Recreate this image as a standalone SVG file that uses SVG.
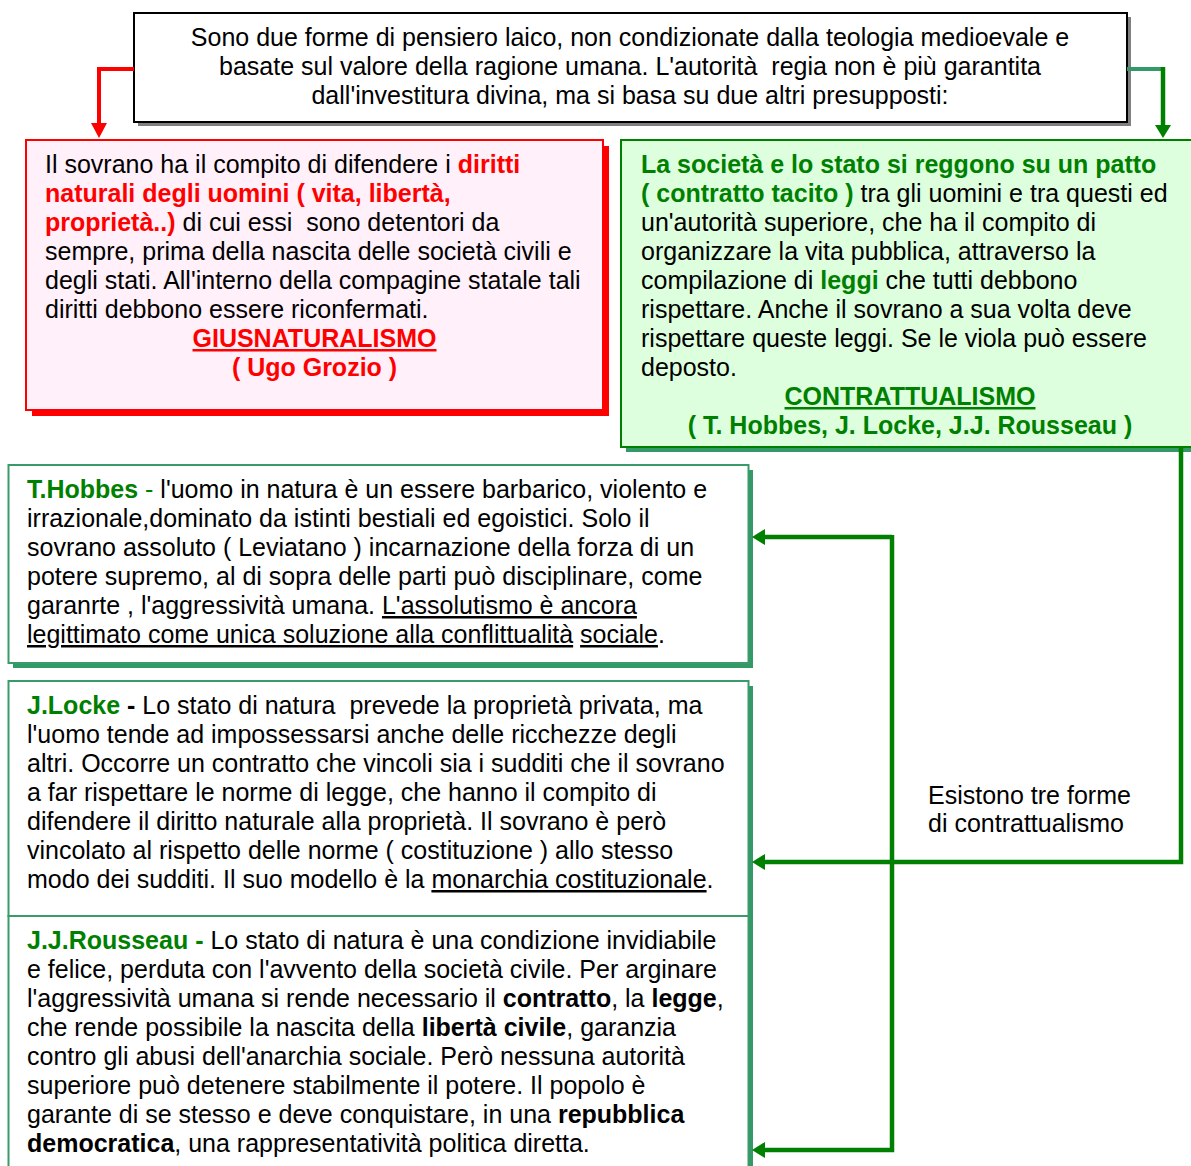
<svg xmlns="http://www.w3.org/2000/svg" width="1191" height="1166" viewBox="0 0 1191 1166">
<style>
.t{font-family:"Liberation Sans",Arial,Helvetica,sans-serif;font-size:25px;fill:#000;white-space:pre}
.b{font-weight:bold}
.red{fill:#ff0000}
.grn{fill:#008000}
.u{text-decoration:underline}
.mid{text-anchor:middle}
.gline{fill:none;stroke:#008000;stroke-width:4.5}
.sbox{fill:#fff;stroke:#3a9a6a;stroke-width:2}
.sshadow{fill:#339966}
</style>
<defs>
<marker id="arrRed" markerUnits="userSpaceOnUse" markerWidth="16" markerHeight="16" refX="0" refY="8" orient="auto"><path d="M0,0 L15,8 L0,16 Z" fill="#ff0000"/></marker>
<marker id="arrGreen" markerUnits="userSpaceOnUse" markerWidth="16" markerHeight="16" refX="0" refY="8" orient="auto"><path d="M0,0 L13,8 L0,16 Z" fill="#008000"/></marker>
</defs>
<rect width="1191" height="1166" fill="#fff"/>

<g id="node-intro">
<rect x="138" y="17" width="993" height="109" fill="#808080"/>
<rect x="134" y="13" width="993" height="109" fill="#fff" stroke="#000" stroke-width="2"/>
<text class="t mid" x="630" y="46">Sono due forme di pensiero laico, non condizionate dalla teologia medioevale e</text>
<text class="t mid" x="630" y="75">basate sul valore della ragione umana. L'autorità  regia non è più garantita</text>
<text class="t mid" x="630" y="104">dall'investitura divina, ma si basa su due altri presupposti:</text>
</g>

<g id="node-giusnaturalismo">
<rect x="32" y="146" width="577" height="270" fill="#ff0000"/>
<rect x="26" y="140" width="577" height="270" fill="#fff0fa" stroke="#ff0000" stroke-width="2"/>
<text class="t" x="45" y="173">Il sovrano ha il compito di difendere i <tspan class="b red">diritti</tspan></text>
<text class="t b red" x="45" y="202">naturali degli uomini ( vita, libertà,</text>
<text class="t" x="45" y="231"><tspan class="b red">proprietà..)</tspan> di cui essi  sono detentori da</text>
<text class="t" x="45" y="260">sempre, prima della nascita delle società civili e</text>
<text class="t" x="45" y="289">degli stati. All'interno della compagine statale tali</text>
<text class="t" x="45" y="318">diritti debbono essere riconfermati.</text>
<text class="t b red u mid" x="314.5" y="347">GIUSNATURALISMO</text>
<text class="t b red mid" x="314.5" y="376">( Ugo Grozio )</text>
</g>

<g id="node-contrattualismo">
<rect x="626" y="145" width="578" height="307" fill="#339966"/>
<rect x="621" y="140" width="578" height="307" fill="#ddffdd" stroke="#008000" stroke-width="2"/>
<text class="t b grn" x="641" y="173">La società e lo stato si reggono su un patto</text>
<text class="t" x="641" y="202"><tspan class="b grn">( contratto tacito )</tspan> tra gli uomini e tra questi ed</text>
<text class="t" x="641" y="231">un'autorità superiore, che ha il compito di</text>
<text class="t" x="641" y="260">organizzare la vita pubblica, attraverso la</text>
<text class="t" x="641" y="289">compilazione di <tspan class="b grn">leggi</tspan> che tutti debbono</text>
<text class="t" x="641" y="318">rispettare. Anche il sovrano a sua volta deve</text>
<text class="t" x="641" y="347">rispettare queste leggi. Se le viola può essere</text>
<text class="t" x="641" y="376">deposto.</text>
<text class="t b grn u mid" x="910" y="405">CONTRATTUALISMO</text>
<text class="t b grn mid" x="910" y="434">( T. Hobbes, J. Locke, J.J. Rousseau )</text>
</g>

<g id="node-hobbes">
<rect class="sshadow" x="13" y="470" width="740" height="198"/>
<rect class="sbox" x="8.5" y="465" width="740" height="198"/>
<text class="t" x="27" y="498"><tspan class="b grn">T.Hobbes</tspan><tspan class="grn"> - </tspan>l'uomo in natura è un essere barbarico, violento e</text>
<text class="t" x="27" y="527">irrazionale,dominato da istinti bestiali ed egoistici. Solo il</text>
<text class="t" x="27" y="556">sovrano assoluto ( Leviatano ) incarnazione della forza di un</text>
<text class="t" x="27" y="585">potere supremo, al di sopra delle parti può disciplinare, come</text>
<text class="t" x="27" y="614">garanrte , l'aggressività umana. <tspan class="u">L'assolutismo è ancora</tspan></text>
<text class="t" x="27" y="643"><tspan class="u">legittimato come unica soluzione alla conflittualità</tspan> <tspan class="u">sociale</tspan>.</text>
</g>

<g id="node-locke">
<rect class="sshadow" x="13" y="686" width="740" height="235"/>
<rect class="sbox" x="8.5" y="681" width="740" height="235"/>
<text class="t" x="27" y="714"><tspan class="b grn">J.Locke</tspan><tspan class="b"> -</tspan> Lo stato di natura  prevede la proprietà privata, ma</text>
<text class="t" x="27" y="743">l'uomo tende ad impossessarsi anche delle ricchezze degli</text>
<text class="t" x="27" y="772">altri. Occorre un contratto che vincoli sia i sudditi che il sovrano</text>
<text class="t" x="27" y="801">a far rispettare le norme di legge, che hanno il compito di</text>
<text class="t" x="27" y="830">difendere il diritto naturale alla proprietà. Il sovrano è però</text>
<text class="t" x="27" y="859">vincolato al rispetto delle norme ( costituzione ) allo stesso</text>
<text class="t" x="27" y="888">modo dei sudditi. Il suo modello è la <tspan class="u">monarchia costituzionale</tspan>.</text>
</g>

<g id="node-rousseau">
<rect class="sshadow" x="13" y="921" width="740" height="270"/>
<rect class="sbox" x="8.5" y="916" width="740" height="270"/>
<text class="t" x="27" y="949"><tspan class="b grn">J.J.Rousseau -</tspan> Lo stato di natura è una condizione invidiabile</text>
<text class="t" x="27" y="978">e felice, perduta con l'avvento della società civile. Per arginare</text>
<text class="t" x="27" y="1007">l'aggressività umana si rende necessario il <tspan class="b">contratto</tspan>, la <tspan class="b">legge</tspan>,</text>
<text class="t" x="27" y="1036">che rende possibile la nascita della <tspan class="b">libertà civile</tspan>, garanzia</text>
<text class="t" x="27" y="1065">contro gli abusi dell'anarchia sociale. Però nessuna autorità</text>
<text class="t" x="27" y="1094">superiore può detenere stabilmente il potere. Il popolo è</text>
<text class="t" x="27" y="1123">garante di se stesso e deve conquistare, in una <tspan class="b">repubblica</tspan></text>
<text class="t" x="27" y="1152"><tspan class="b">democratica</tspan>, una rappresentatività politica diretta.</text>
</g>

<g id="connectors">
<path d="M134,69 H99 V123" fill="none" stroke="#ff0000" stroke-width="4" marker-end="url(#arrRed)"/>
<path d="M1127,69 H1163" fill="none" stroke="#339966" stroke-width="4"/>
<path d="M1163,67 V125" class="gline" marker-end="url(#arrGreen)"/>
<path d="M1181,447 V862 H765" class="gline" marker-end="url(#arrGreen)"/>
<path d="M892,537 H765" class="gline" marker-end="url(#arrGreen)"/>
<path d="M892,535 V1150 H765" class="gline" marker-end="url(#arrGreen)"/>
<text class="t" x="928" y="804">Esistono tre forme</text>
<text class="t" x="928" y="832">di contrattualismo</text>
</g>
</svg>
